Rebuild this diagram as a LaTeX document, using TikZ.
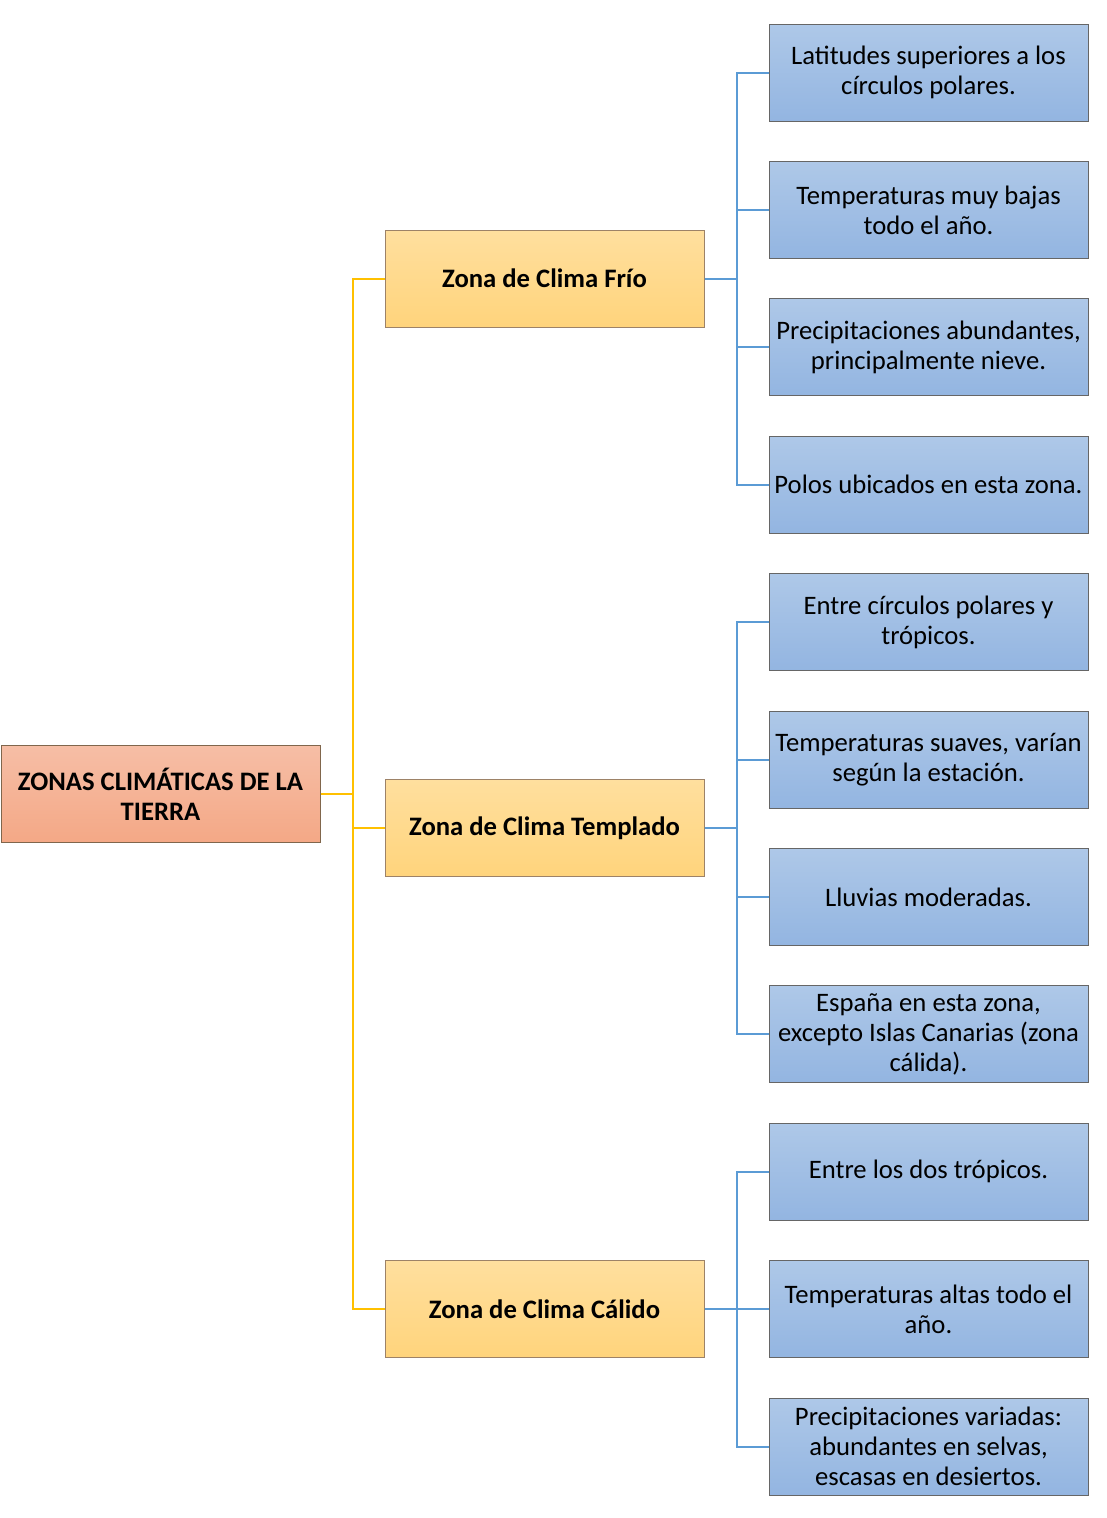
\documentclass[tikz,border=0pt]{standalone}
\usepackage{fontspec}
\setmainfont{Carlito}
\usetikzlibrary{positioning, calc}

\definecolor{rojizo}{HTML}{F4A886}
\definecolor{rojizoclaro}{HTML}{F6BEA6}
\definecolor{amarillo}{HTML}{FFD47C}
\definecolor{amarilloclaro}{HTML}{FFDF9E}
\definecolor{azul}{HTML}{93B5E1}
\definecolor{azulclaro}{HTML}{AEC8E8}
\definecolor{lineaam}{HTML}{FFC000}
\definecolor{lineaaz}{HTML}{5B9BD5}

\begin{document}
\begin{tikzpicture}[x=0.75pt, y=-0.75pt, node distance=29.55pt and 48pt,
  caja/.style={draw=black!60, line width=0.75pt, rectangle, align=center, minimum width=239.25pt, minimum height=72.75pt, inner sep=2pt, font=\fontsize{20}{22.5}\selectfont},
  raiz/.style={caja, top color=rojizoclaro, bottom color=rojizo, draw=brown!50!black!80, font=\fontsize{20}{22.5}\selectfont\bfseries},
  zona/.style={caja, top color=amarilloclaro, bottom color=amarillo, draw=brown!60!black!70, font=\fontsize{20}{22.5}\selectfont\bfseries},
  rasgo/.style={caja, top color=azulclaro, bottom color=azul, draw=black!60},
  ramaam/.style={draw=lineaam, line width=1.5pt},
  ramaaz/.style={draw=lineaaz, line width=1.5pt}]
\useasboundingbox (0,0) rectangle (1107,1518);

% columna de rasgos
\node[rasgo] (f1) at (928.5,72.5) {Latitudes superiores a los\\círculos polares.};
\node[rasgo, below=of f1] (f2) {Temperaturas muy bajas\\todo el año.};
\node[rasgo, below=of f2] (f3) {Precipitaciones abundantes,\\principalmente nieve.};
\node[rasgo, below=of f3] (f4) {Polos ubicados en esta zona.};
\node[rasgo, below=of f4] (t1) {Entre círculos polares y\\trópicos.};
\node[rasgo, below=of t1] (t2) {Temperaturas suaves, varían\\según la estación.};
\node[rasgo, below=of t2] (t3) {Lluvias moderadas.};
\node[rasgo, below=of t3] (t4) {España en esta zona,\\excepto Islas Canarias (zona\\cálida).};
\node[rasgo, below=of t4] (c1) {Entre los dos trópicos.};
\node[rasgo, below=of c1] (c2) {Temperaturas altas todo el\\año.};
\node[rasgo, below=of c2] (c3) {Precipitaciones variadas:\\abundantes en selvas,\\escasas en desiertos.};

% zonas
\coordinate (mf) at ($(f2.west)!0.5!(f3.west)$);
\coordinate (mt) at ($(t2.west)!0.5!(t3.west)$);
\node[zona, left=of mf] (frio) {Zona de Clima Frío};
\node[zona, left=of mt] (templado) {Zona de Clima Templado};
\node[zona, left=of c2.west] (calido) {Zona de Clima Cálido};

% raiz
\coordinate (mr) at ($(frio.west)!0.5!(calido.west)$);
\node[raiz, left=of mr] (tierra) {ZONAS CLIMÁTICAS DE LA\\TIERRA};

\foreach \z in {frio, templado, calido}
  \draw[ramaam] (tierra.east) -- ++(24pt,0) |- (\z.west);

\foreach \r in {f1, f2, f3, f4}
  \draw[ramaaz] (frio.east) -- ++(24pt,0) |- (\r.west);
\foreach \r in {t1, t2, t3, t4}
  \draw[ramaaz] (templado.east) -- ++(24pt,0) |- (\r.west);
\foreach \r in {c1, c2, c3}
  \draw[ramaaz] (calido.east) -- ++(24pt,0) |- (\r.west);
\end{tikzpicture}
\end{document}
